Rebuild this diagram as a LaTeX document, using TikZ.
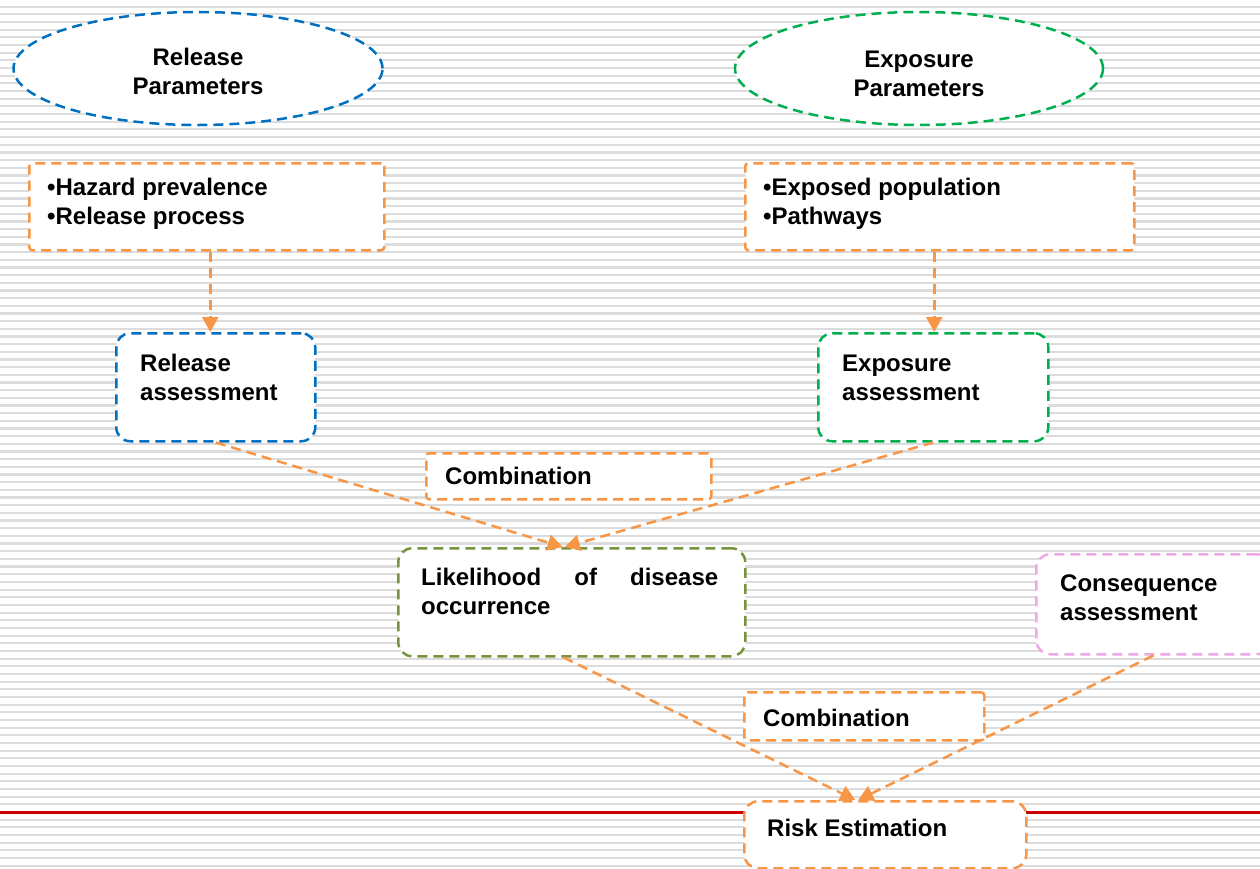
\documentclass[tikz,border=0pt]{standalone}
\usepackage{fontspec}
\setmainfont{Liberation Sans}
\usetikzlibrary{arrows.meta,shapes.geometric}
\definecolor{orn}{HTML}{F79646}
\definecolor{blu}{HTML}{0070C0}
\definecolor{grn}{HTML}{00B050}
\definecolor{olv}{HTML}{77933C}
\definecolor{pnk}{HTML}{F0A8E4}
\definecolor{stripe}{HTML}{DCDCDC}
\definecolor{redline}{HTML}{CC0000}
% two stacked lines whose baseline is the first line
\newcommand\twolines[2]{\vtop{\hbox{#1}\hbox{#2}}}
\begin{document}
\begin{tikzpicture}[x=1pt,y=-1pt,
  every node/.style={inner sep=0pt},
  dashline/.style={line width=2.5pt, dash pattern=on 10pt off 6pt},
  frame/.style={dashline, fill=white, anchor=north west},
  sqbox/.style={frame, draw=orn, rounded corners=3pt},
  rbox/.style={frame, rounded corners=14pt},
  oval/.style={ellipse, dashline, fill=white},
  txt/.style={anchor=base west, font=\fontsize{24}{29}\selectfont\bfseries},
  ctxt/.style={align=center, font=\fontsize{24}{29}\selectfont\bfseries},
  arr/.style={draw=orn, line width=2.5pt, dash pattern=on 10pt off 6pt,
    -{Triangle[width=16pt,length=15pt]}},
]
\useasboundingbox (0,0) rectangle (1260,868);
\clip (0,0) rectangle (1260,868);

% striped page background
\fill[white] (0,0) rectangle (1260,868);
\foreach \i in {1,...,113}
  \draw[stripe, line width=2.2pt] (0,{7.67*\i-1}) -- (1260,{7.67*\i-1});
\draw[redline, line width=3pt] (0,812) -- (1260,812);

% parameter ovals
\node[oval, draw=blu, minimum width=369pt, minimum height=113pt] (relpar) at (198,68.5) {};
\node[ctxt] (relpart) at (198,71) {Release\\Parameters};
\node[oval, draw=grn, minimum width=368pt, minimum height=113pt] (exppar) at (919,68.5) {};
\node[ctxt] (exppart) at (919,74) {Exposure\\Parameters};

% parameter lists
\node[sqbox, minimum width=355pt, minimum height=87pt] (hz) at (28,162) {};
\node[txt] (hzt) at (47,195.5) {\twolines{•Hazard prevalence}{•Release process}};
\node[sqbox, minimum width=389pt, minimum height=87pt] (ex) at (744,162) {};
\node[txt] (ext) at (763,195.5) {\twolines{•Exposed population}{•Pathways}};

% assessments
\node[rbox, draw=blu, minimum width=199pt, minimum height=108pt] (rel) at (115,332) {};
\node[txt] (relt) at (140,371.5) {\twolines{Release}{assessment}};
\node[rbox, draw=grn, minimum width=230pt, minimum height=108pt] (exp) at (817,332) {};
\node[txt] (expt) at (842,371.5) {\twolines{Exposure}{assessment}};

% first combination
\node[sqbox, minimum width=285pt, minimum height=46pt] (comb1) at (425,452) {};
\node[txt] (comb1t) at (445,484.5) {Combination};

% likelihood
\node[rbox, draw=olv, minimum width=347pt, minimum height=108pt] (lik) at (397,547) {};
\node[txt] (likt) at (421,585.5)
  {\twolines{\hbox to 297pt{Likelihood\hfill of\hfill disease}}{occurrence}};

% consequence
\node[rbox, draw=pnk, minimum width=234pt, minimum height=100pt] (cons) at (1035,553) {};
\node[txt] (const) at (1060,591.5) {\twolines{Consequence}{assessment}};

% second combination
\node[sqbox, minimum width=240pt, minimum height=48pt] (comb2) at (743,691) {};
\node[txt] (comb2t) at (763,726.5) {Combination};

% risk estimation
\node[rbox, draw=orn, minimum width=282pt, minimum height=67pt] (risk) at (743,800) {};
\node[txt] (riskt) at (767,836.5) {Risk Estimation};

% connectors
\draw[arr] ([xshift=3.5pt]hz.south) -- ([xshift=-5.5pt]rel.north);
\draw[arr] ([xshift=-5.5pt]ex.south) -- ([xshift=1pt]exp.north);
\draw[arr] (rel.south) -- ([xshift=-9pt]lik.north);
\draw[arr] (exp.south) -- ([xshift=-7pt]lik.north);
\draw[arr] ([xshift=-8pt]lik.south) -- ([xshift=-30pt]risk.north);
\draw[arr] (cons.south) -- ([xshift=-27pt]risk.north);
\end{tikzpicture}
\end{document}
